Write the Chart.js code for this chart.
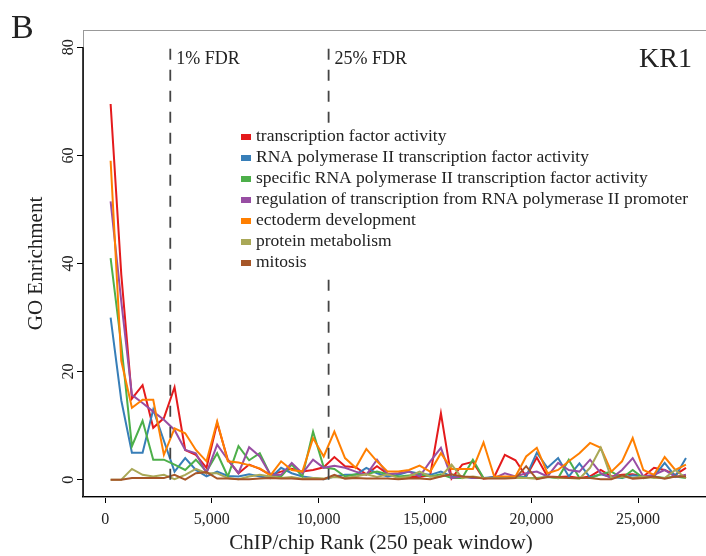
<!DOCTYPE html>
<html>
<head>
<meta charset="utf-8">
<title>GO Enrichment - KR1</title>
<script src="https://cdn.jsdelivr.net/npm/chart.js@4.4.1/dist/chart.umd.min.js"></script>
<style>
  html, body { margin: 0; padding: 0; background: #fff; }
  #wrap { width: 706px; height: 556px; }
</style>
</head>
<body>
<div id="wrap"><canvas id="graficoKR1" width="706" height="556"></canvas></div>
<script>
// centro de cada janela de 250 picos
const ranks = [
  250, 750, 1250, 1750, 2250, 2750, 3250, 3750, 4250, 4750,
  5250, 5750, 6250, 6750, 7250, 7750, 8250, 8750, 9250, 9750,
  10250, 10750, 11250, 11750, 12250, 12750, 13250, 13750, 14250, 14750,
  15250, 15750, 16250, 16750, 17250, 17750, 18250, 18750, 19250, 19750,
  20250, 20750, 21250, 21750, 22250, 22750, 23250, 23750, 24250, 24750,
  25250, 25750, 26250, 26750, 27250,
];

const seriesLabels = [
  "transcription factor activity",
  "RNA polymerase II transcription factor activity",
  "specific RNA polymerase II transcription factor activity",
  "regulation of transcription from RNA polymerase II promoter",
  "ectoderm development",
  "protein metabolism",
  "mitosis",
];
const seriesColors = ["#e41a1c", "#377eb8", "#4daf4a", "#984ea3", "#ff7f00", "#a9a857", "#a65628"];

const tfActivity = [
  69.5, 38, 15, 17.5, 9.6, 11.4, 17.1, 5.5, 4.6, 2.2,
  10.5, 3.7, 1.2, 2.8, 2.0, 0.9, 1.5, 2.0, 1.5, 1.8,
  2.3, 4.2, 2.5, 2.3, 1.0, 2.5, 1.1, 0.5, 0.5, 0.5,
  0.9, 12.3, 0.2, 2.8, 3.3, 0.2, 0.5, 4.6, 3.6, 0.6,
  4.1, 0.6, 0.5, 0.6, 0.3, 0.6, 1.8, 0.6, 0.9, 1.0,
  0.6, 2.2, 1.8, 0.9, 2.2,
];
const pol2TfActivity = [
  30, 14.7, 5.0, 5.0, 13.0, 7.2, 1.5, 4.0, 1.8, 0.6,
  1.5, 0.7, 0.6, 1.0, 0.6, 0.3, 2.2, 1.2, 0.6, 0.3,
  0.1, 0.6, 0.9, 0.9, 2.2, 1.2, 0.6, 0.9, 1.5, 1.1,
  0.9, 1.5, 0.6, 0.6, 0.3, 0.3, 0.5, 0.3, 0.3, 0.6,
  5.0, 2.2, 4.0, 0.6, 3.0, 0.4, 1.0, 0.5, 0.3, 0.8,
  0.6, 0.6, 3.1, 0.6, 4.0,
];
const specificPol2Tf = [
  41, 25, 6.2, 10.9, 3.7, 3.7, 2.8, 1.8, 3.7, 1.5,
  4.9, 0.6, 6.2, 3.6, 4.9, 0.9, 0.6, 2.8, 0.6, 8.9,
  2.3, 2.0, 0.6, 1.0, 1.0, 1.5, 1.0, 0.6, 0.8, 1.0,
  0.6, 1.0, 0.3, 0.3, 3.7, 0.3, 0.3, 0.3, 0.6, 0.3,
  0.3, 0.5, 0.3, 3.7, 0.3, 0.3, 1.0, 1.5, 0.3, 1.8,
  0.3, 0.6, 0.3, 0.6, 0.3,
];
const regPol2Promoter = [
  51.5, 33, 15.7, 14.2, 12.6, 11.1, 9.2, 5.5, 4.9, 1.2,
  6.5, 3.7, 1.2, 6.0, 4.3, 0.9, 0.9, 3.1, 1.2, 3.7,
  2.2, 2.6, 2.2, 1.5, 0.9, 3.7, 1.0, 1.2, 1.5, 0.6,
  3.4, 5.9, 0.3, 0.6, 0.3, 0.3, 0.3, 1.2, 0.6, 1.2,
  1.5, 0.6, 3.1, 1.8, 1.5, 3.7, 1.2, 0.3, 1.8, 4.0,
  0.6, 0.9, 1.8, 0.5, 0.9,
];
const ectoderm = [
  59, 22, 13.3, 14.8, 14.8, 4.6, 9.5, 8.6, 5.5, 3.4,
  10.8, 3.4, 3.2, 2.7, 2.1, 0.8, 3.4, 1.8, 1.5, 7.7,
  4.3, 8.9, 4.0, 2.2, 5.7, 3.4, 1.5, 1.5, 1.8, 2.6,
  1.5, 4.9, 2.0, 2.0, 2.0, 6.9, 0.6, 0.6, 0.6, 4.3,
  5.9, 1.2, 1.8, 3.4, 4.9, 6.8, 5.9, 1.5, 3.4, 7.7,
  1.8, 0.9, 4.2, 1.8, 2.8,
];
const proteinMetabolism = [
  0, 0, 2.0, 0.9, 0.6, 0.9, 0.1, 0.9, 2.0, 1.2,
  1.2, 0.3, 0.1, 0.6, 0.9, 0.6, 0.3, 0.5, 0.2, 0.3,
  0.2, 0.5, 0.3, 0.6, 1.0, 0.5, 1.0, 0.3, 0.6, 1.5,
  0.6, 0.6, 2.8, 0.3, 0.6, 0.3, 0.3, 0.3, 0.3, 0.3,
  0.2, 0.6, 0.3, 0.3, 0.2, 2.2, 5.9, 0.3, 0.6, 0.3,
  0.6, 0.3, 0.3, 1.8, 0.3,
];
const mitosis = [
  0, 0, 0.3, 0.3, 0.3, 0.3, 0.9, 0, 1.2, 1.4,
  0.2, 0.2, 0.1, 0.1, 0.2, 0.3, 0.2, 0.2, 0.1, 0.1,
  0.1, 0.9, 0.2, 0.3, 0.2, 0.2, 0.2, 0.1, 0.2, 0.2,
  0.1, 0.6, 1.0, 0.6, 0.5, 0.2, 0.2, 0.2, 0.3, 2.5,
  0.1, 0.5, 0.5, 0.3, 0.3, 0.3, 0.1, 0.1, 0.8, 0.2,
  0.3, 0.6, 0.2, 0.6, 0.6,
];
const seriesValues = [tfActivity, pol2TfActivity, specificPol2Tf, regPol2Promoter, ectoderm, proteinMetabolism, mitosis];

const fdrRanks = [3050, 10480];
const fdrLabels = ["1% FDR", "25% FDR"];
const xTicks = [0, 5000, 10000, 15000, 20000, 25000];
const yTicks = [0, 20, 40, 60, 80];

const serif = "'Liberation Serif', 'Times New Roman', serif";

document.addEventListener("DOMContentLoaded", () => {
  const ctx = document.getElementById("graficoKR1").getContext("2d");

  const datasets = seriesValues.map((vals, i) => ({
    label: seriesLabels[i],
    data: vals.map((v, j) => ({ x: ranks[j], y: v })),
    borderColor: seriesColors[i],
    backgroundColor: seriesColors[i],
    borderWidth: 2,
    pointRadius: 0,
    tension: 0,
    order: 20 - i, // R desenha a ultima serie por cima
  }));

  fdrRanks.forEach((r) => {
    datasets.push({
      label: "fdr",
      data: [{ x: r, y: 0 }, { x: r, y: 80 }],
      borderColor: "#444",
      borderWidth: 1.8,
      borderDash: [11, 10],
      pointRadius: 0,
      order: 1,
    });
  });

  const extras = {
    id: "extras",
    beforeDatasetsDraw(chart) {
      const { ctx: c, chartArea: a } = chart;
      const ys = chart.scales.y;
      c.save();
      c.strokeStyle = "#999";
      c.lineWidth = 1;
      c.strokeRect(a.left + 0.5, a.top + 0.5, a.right - a.left, a.bottom - a.top);
      // linha do eixo y so do ultimo tick para baixo
      c.strokeStyle = "#000";
      c.lineWidth = 1.5;
      c.beginPath();
      c.moveTo(a.left, ys.getPixelForValue(yTicks[yTicks.length - 1]));
      c.lineTo(a.left, a.bottom);
      c.stroke();
      c.restore();
    },
    afterDraw(chart) {
      const { ctx: c } = chart;
      const xs = chart.scales.x;
      const ys = chart.scales.y;
      c.save();
      c.fillStyle = "#222";

      // rotulos do eixo y na vertical (estilo R)
      c.font = `16px ${serif}`;
      c.textAlign = "center";
      c.textBaseline = "middle";
      ys.ticks.forEach((t) => {
        c.save();
        c.translate(69, ys.getPixelForValue(t.value));
        c.rotate(-Math.PI / 2);
        c.fillText(String(t.value), 0, 0);
        c.restore();
      });

      c.textBaseline = "alphabetic";
      c.textAlign = "left";
      c.font = `18px ${serif}`;
      fdrRanks.forEach((r, i) => {
        c.fillText(fdrLabels[i], xs.getPixelForValue(r) + 6, 64);
      });

      c.font = `28px ${serif}`;
      c.textAlign = "right";
      c.fillText("KR1", 692, 67);

      c.font = `34px ${serif}`;
      c.textAlign = "left";
      c.fillText("B", 11, 38);

      c.font = `21px ${serif}`;
      c.textAlign = "center";
      c.textBaseline = "middle";
      c.fillText("ChIP/chip Rank (250 peak window)", 381, 543);

      // legenda com fundo branco (esconde a linha de 25% FDR)
      c.fillStyle = "#fff";
      c.fillRect(235, 123, 462, 150);
      c.font = `17.5px ${serif}`;
      c.textAlign = "left";
      c.textBaseline = "alphabetic";
      seriesLabels.forEach((lab, i) => {
        const yy = 141 + 21 * i;
        c.fillStyle = seriesColors[i];
        c.fillRect(241, yy - 7, 10, 6);
        c.fillStyle = "#222";
        c.fillText(lab, 256, yy);
      });
      c.restore();
    },
  };

  new Chart(ctx, {
    type: "line",
    data: { datasets: datasets },
    plugins: [extras],
    options: {
      responsive: false,
      animation: false,
      layout: { padding: { left: 0, top: 30, right: 0, bottom: 0 } },
      plugins: { legend: { display: false }, tooltip: { enabled: false } },
      scales: {
        x: {
          type: "linear",
          min: -1046,
          max: 28190,
          afterBuildTicks: (s) => {
            s.ticks = xTicks.map((v) => ({ value: v }));
          },
          afterFit: (s) => {
            s.height = 59;
          },
          grid: { drawOnChartArea: false, drawTicks: true, tickLength: 6, color: "#000", lineWidth: 1 },
          border: { display: true, color: "#000", width: 1.5 },
          ticks: {
            color: "#222",
            font: { family: serif, size: 16 },
            padding: 7,
            maxRotation: 0,
            callback: (v) => Number(v).toLocaleString("en-US"),
          },
        },
        y: {
          type: "linear",
          min: -3.2,
          max: 83.2,
          afterBuildTicks: (s) => {
            s.ticks = yTicks.map((v) => ({ value: v }));
          },
          afterFit: (s) => {
            s.width = 83;
          },
          grid: { drawOnChartArea: false, drawTicks: true, tickLength: 6, color: "#000", lineWidth: 1 },
          border: { display: false },
          ticks: { display: false },
          title: {
            display: true,
            text: "GO Enrichment",
            color: "#222",
            font: { family: serif, size: 21 },
            padding: { top: 24, bottom: 0 },
          },
        },
      },
    },
  });
});
</script>
</body>
</html>
